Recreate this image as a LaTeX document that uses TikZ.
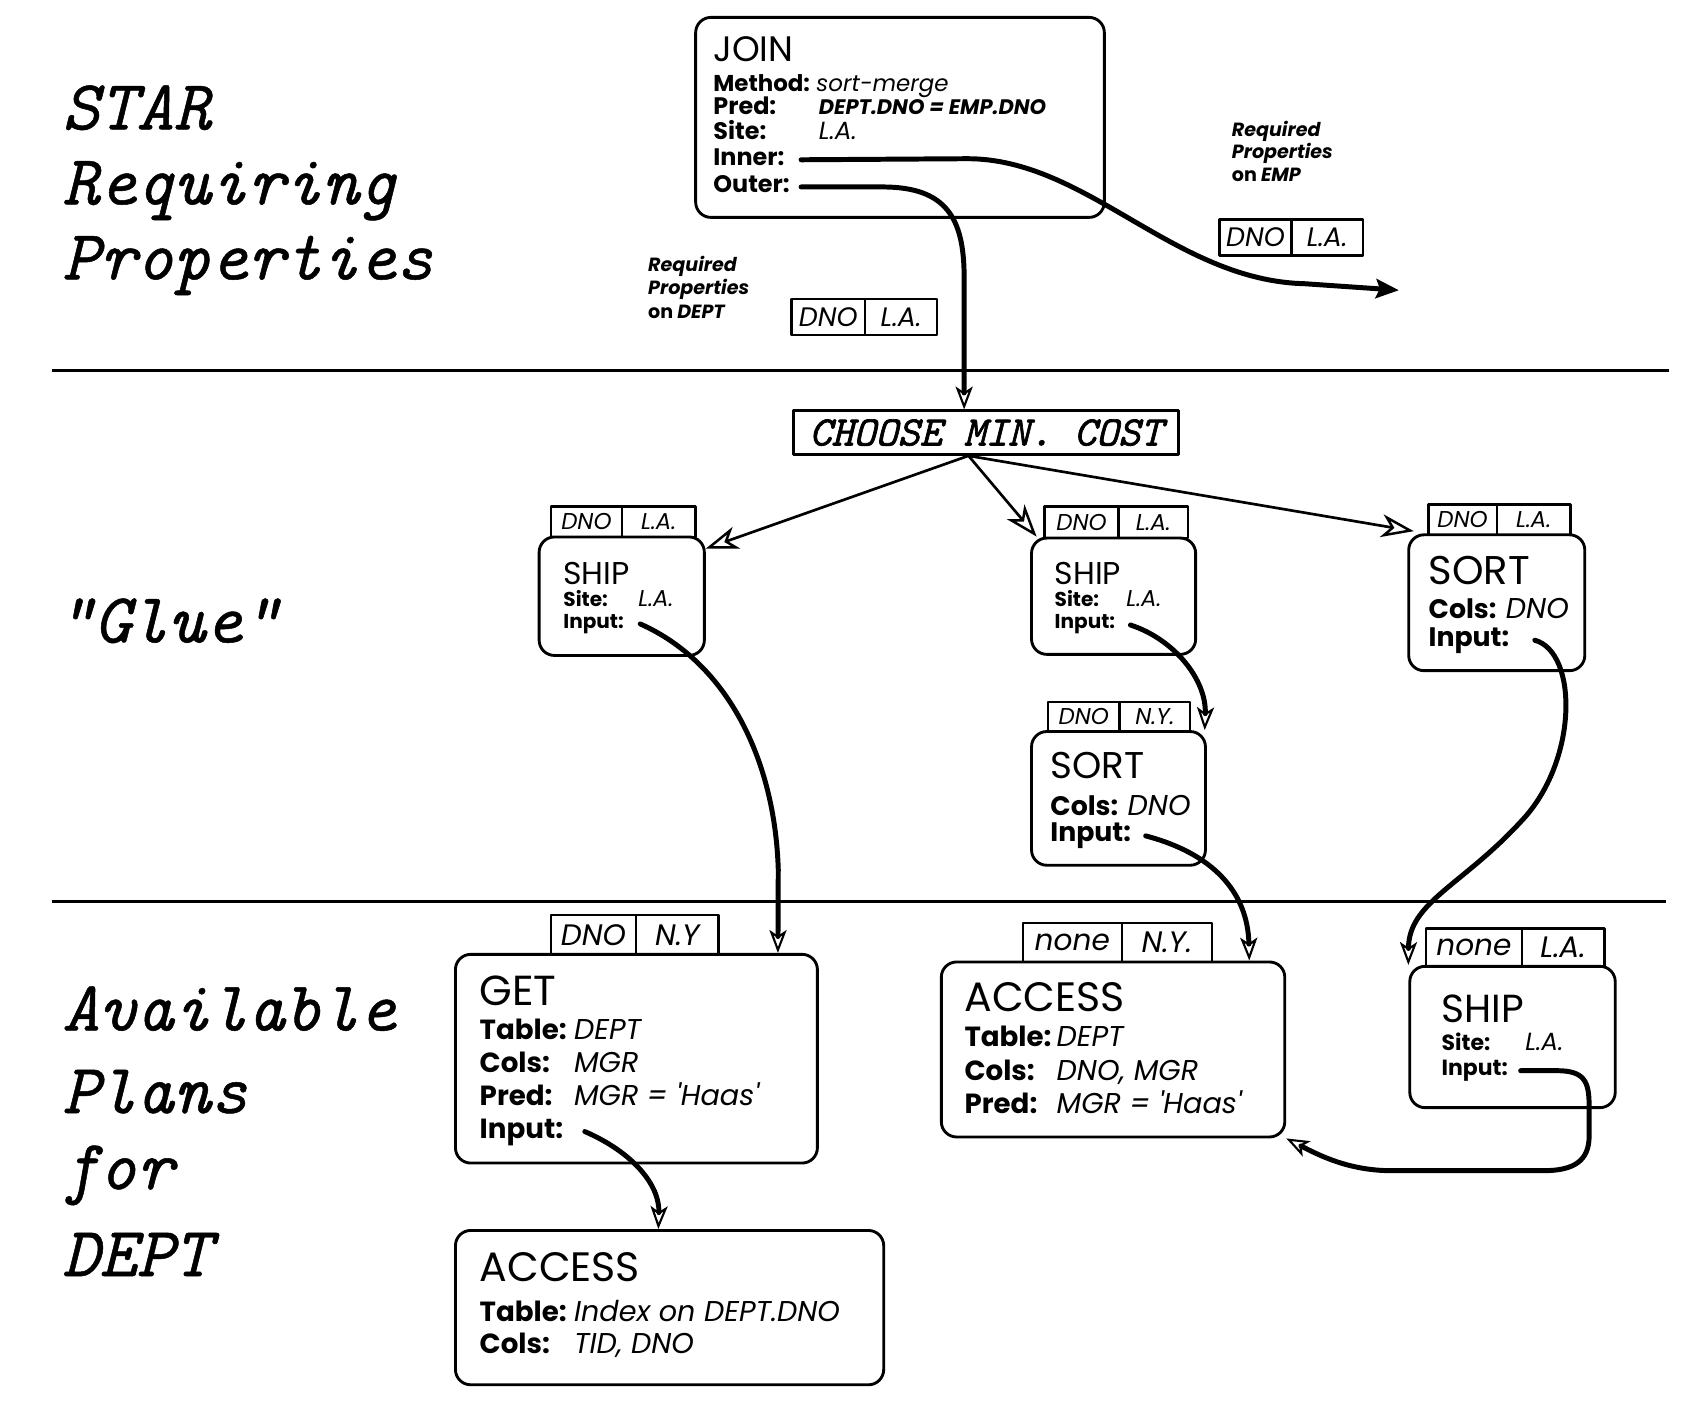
\documentclass[tikz,border=0pt]{standalone}
\usepackage{fontspec}
\newfontfamily\bxf{Poppins}
\newfontfamily\chf{lmmono10-italic.otf}[FakeBold=1.6]
\newfontfamily\hdf{lmmono10-italic.otf}[FakeBold=0.7]
\usetikzlibrary{arrows.meta,calc,fit}
\newcommand\fsz[1]{\fontsize{#1}{#1}\selectfont}
\begin{document}
\begin{tikzpicture}[x=0.02cm,y=-0.02cm,line join=round]
\useasboundingbox (0,0) rectangle (1564,1295);
\tikzset{
  rule/.style={line width=1.5pt},
  head/.style={anchor=base west, inner sep=0pt, font={\hdf\fsz{37}}},
  opbox/.style={draw, line width=1.5pt, rounded corners=8pt, inner sep=0pt},
  ttl/.style={anchor=base west, inner sep=0pt, font={\bxf\fsz{#1}}},
  lb/.style={anchor=base west, inner sep=0pt, font={\bxf\bfseries\fsz{#1}}},
  vl/.style={anchor=base west, inner sep=0pt, font={\bxf\itshape\fsz{#1}}},
  rq/.style={anchor=base west, inner sep=0pt, font={\bxf\bfseries\itshape\fsz{10}}},
  tagc/.style n args={3}{draw, line width=1.3pt, inner sep=0pt, font={\bxf\itshape\fsz{#1}},
     minimum width={#2*0.02cm}, minimum height={#3*0.02cm}},
  chbox/.style={draw, line width=1.5pt, inner sep=0pt, font={\chf\fsz{22}},
     minimum width={354*0.02cm}, minimum height={40*0.02cm}},
  conn/.style={line width=2.6pt, line cap=round, -{Stealth[open, length=12pt, width=9pt, inset=3pt, line width=1.1pt]}},
  empconn/.style={line width=2.6pt, line cap=round, -{Stealth[length=12pt, width=10pt, inset=2pt]}},
  carr/.style={line width=1.4pt, -{Stealth[open, length=17pt, width=12pt, inset=5pt, line width=1.3pt]}}
}
% section rules
\coordinate (r1a) at (48,341); \coordinate (r1b) at (1535,341);
\coordinate (r2a) at (48,829); \coordinate (r2b) at (1533,829);
\draw[rule] (r1a) -- (r1b);
\draw[rule] (r2a) -- (r2b);
% headings
\node[head] (hstar) at (57,119) {STAR};
\node[head] (hreq) at (57,188) {Requiring};
\node[head] (hprop) at (57,257) {Properties};
\node[head] (hglue) at (52,591) {\char34 Glue\char34};
\node[head] (havail) at (57,948) {Available};
\node[head] (hplans) at (57,1024) {Plans};
\node[head] (hfor) at (57,1094) {for};
\node[head] (hdept) at (57,1174) {DEPT};
% JOIN box
\node[opbox, fit={(640,16) (1016,200)}] (join) {};
\node[ttl=18.5] (joint) at (656,57) {JOIN};
\node[lb=12] (jmeth) at (656,84) {Method: \mdseries\itshape sort-merge};
\node[lb=12.5] (jpred) at (656,105) {Pred:};
\node[vl=11.5, font={\bxf\bfseries\itshape\fsz{11}}] (jpredv) at (753,105) {DEPT.DNO = EMP.DNO};
\node[lb=12.5] (jsite) at (656,128) {Site:};
\node[vl=13] (jsitev) at (753,128) {L.A.};
\node[lb=12.5] (jinner) at (656,152) {Inner:};
\node[lb=12.5] (jouter) at (656,177) {Outer:};
\coordinate (innerS) at (737,147);
\coordinate (outerS) at (737,172);
% required properties on EMP
\node[rq] (emp1) at (1133,126) {Required};
\node[rq] (emp2) at (1133,146) {Properties};
\node[rq] (emp3) at (1133,167) {\upshape on \itshape EMP};
\node[tagc={14}{66}{33}] (empa) at (1155,218.5) {DNO};
\node[tagc={14}{66}{33}] (empb) at (1221,218.5) {L.A.};
\coordinate (empE) at (1287,267);
% required properties on DEPT
\node[rq] (dep1) at (596,250) {Required};
\node[rq] (dep2) at (596,271) {Properties};
\node[rq] (dep3) at (596,293) {\upshape on \itshape DEPT};
\node[tagc={14}{68}{33}] (depa) at (762,291.5) {DNO};
\node[tagc={14}{66}{33}] (depb) at (829,291.5) {L.A.};
% choose
\node[chbox] (choose) at (907,398) {CHOOSE MIN. COST};
% SHIP 1
\node[opbox, fit={(496,494) (648,603)}] (ship1) {};
\node[tagc={12}{65}{28}] (s1a) at (539.5,480) {DNO};
\node[tagc={12}{68}{28}] (s1b) at (606,480) {L.A.};
\node[ttl=16.5] (s1t) at (518,538) {SHIP};
\node[lb=10.5] (s1s) at (518,558) {Site:};
\node[vl=12] (s1sv) at (587,558) {L.A.};
\node[lb=10.5] (s1i) at (518,578) {Input:};
\coordinate (in1) at (589,574);
% SHIP 2
\node[opbox, fit={(949,495) (1100,602)}] (ship2) {};
\node[tagc={12}{68}{29}] (s2a) at (995,480.5) {DNO};
\node[tagc={12}{64}{29}] (s2b) at (1061,480.5) {L.A.};
\node[ttl=16.5] (s2t) at (970,538) {SHIP};
\node[lb=10.5] (s2s) at (970,558) {Site:};
\node[vl=12] (s2sv) at (1036,558) {L.A.};
\node[lb=10.5] (s2i) at (970,578) {Input:};
\coordinate (in2) at (1040,575);
% SORT 1
\node[opbox, fit={(1296,492) (1458,617)}] (sort1) {};
\node[tagc={12}{63}{28}] (o1a) at (1345.5,478) {DNO};
\node[tagc={12}{68}{28}] (o1b) at (1411,478) {L.A.};
\node[ttl=21] (o1t) at (1314,538) {SORT};
\node[lb=14] (o1c) at (1314,569) {Cols:};
\node[vl=15] (o1cv) at ($(o1c.base east)+(8,0)$) {DNO};
\node[lb=14] (o1i) at (1314,595) {Input:};
\coordinate (in3) at (1412,589);
% SORT 2
\node[opbox, fit={(949,673) (1109,796)}] (sort2) {};
\node[tagc={12}{66}{27}] (o2a) at (997,659.5) {DNO};
\node[tagc={12}{65}{27}] (o2b) at (1062.5,659.5) {N.Y.};
\node[ttl=19.5] (o2t) at (966,716) {SORT};
\node[lb=14] (o2c) at (966,750) {Cols:};
\node[vl=15] (o2cv) at ($(o2c.base east)+(8,0)$) {DNO};
\node[lb=14] (o2i) at (966,774) {Input:};
\coordinate (in4) at (1054,769);
% GET
\node[opbox, fit={(419,878) (752,1070)}] (get) {};
\node[tagc={15.5}{78}{36}] (ga) at (546,860) {DNO};
\node[tagc={15.5}{76}{36}] (gb) at (623,860) {N.Y};
\node[ttl=22] (gt) at (441,925) {GET};
\node[lb=14.5] (gtab) at (441,956) {Table:};
\node[vl=15] (gtabv) at ($(gtab.base east)+(6,0)$) {DEPT};
\node[lb=14.5] (gcol) at (441,987) {Cols:};
\node[vl=15] (gcolv) at (gcol.base -| gtabv.base west) {MGR};
\node[lb=14.5] (gpred) at (441,1017) {Pred:};
\node[vl=15] (gpredv) at (gpred.base -| gtabv.base west) {MGR = 'Haas'};
\node[lb=14.5] (ginp) at (441,1047) {Input:};
\coordinate (in5) at (538,1041);
% ACCESS middle
\node[opbox, fit={(866,885) (1182,1046)}] (accm) {};
\node[tagc={15.5}{91}{36}] (ama) at (986.5,867) {none};
\node[tagc={15.5}{83}{36}] (amb) at (1073.5,867) {N.Y.};
\node[ttl=21.5] (amt) at (887,931) {ACCESS};
\node[lb=14.5] (amtab) at (887,963) {Table:};
\node[vl=15] (amtabv) at ($(amtab.base east)+(4,0)$) {DEPT};
\node[lb=14.5] (amcol) at (887,994) {Cols:};
\node[vl=15] (amcolv) at (amcol.base -| amtabv.base west) {DNO, MGR};
\node[lb=14.5] (ampred) at (887,1024) {Pred:};
\node[vl=15] (ampredv) at (ampred.base -| amtabv.base west) {MGR = 'Haas'};
% SHIP 3
\node[opbox, fit={(1297,889) (1486,1019)}] (ship3) {};
\node[tagc={15.5}{88}{35}] (s3a) at (1356,871.5) {none};
\node[tagc={15.5}{76}{35}] (s3b) at (1438,871.5) {L.A.};
\node[ttl=20.5] (s3t) at (1326,941) {SHIP};
\node[lb=11.5] (s3s) at (1326,966) {Site:};
\node[vl=13] (s3sv) at (1403,966) {L.A.};
\node[lb=11.5] (s3i) at (1326,989) {Input:};
\coordinate (in6) at (1399,985);
% ACCESS bottom
\node[opbox, fit={(419,1132) (813,1274)}] (accb) {};
\node[ttl=21.5] (abt) at (441,1179) {ACCESS};
\node[lb=14.5] (abtab) at (441,1216) {Table:};
\node[vl=15] (abtabv) at ($(abtab.base east)+(6,0)$) {Index on DEPT.DNO};
\node[lb=14.5] (abcol) at (441,1245) {Cols:};
\node[vl=15] (abcolv) at (abcol.base -| abtabv.base west) {TID, DNO};
% connectors
\coordinate (chs) at ($(choose.south)+(-16,0)$);
\draw[conn] (outerS) -- (812,172) .. controls (870,172) and (887,200) .. (887,255) -- ($(choose.north)+(-20,0)$);
\draw[empconn] (innerS) -- (890,146) .. controls (1000,146) and (1080,258) .. (1200,261) -- (empE);
\draw[carr] (chs) -- ($(ship1.north east)+(0,12)$);
\draw[carr] (chs) -- ($(ship2.north west)+(6,0)$);
\draw[carr] (chs) -- ($(sort1.north west)+(6,-2)$);
\draw[conn] (in1) .. controls (670,610) and (713,700) .. (716,800) -- ($(get.north west)+(298,0)$);
\draw[conn] (in2) .. controls (1080,588) and (1110,625) .. ($(sort2.north east)+(-2,0)$);
\draw[conn] (in3) .. controls (1452,600) and (1452,700) .. (1400,755) .. controls (1345,815) and (1296,830) .. (ship3.north west);
\draw[conn] (in4) .. controls (1115,785) and (1148,820) .. ($(accm.north east)+(-34,0)$);
\draw[conn] (in5) .. controls (582,1060) and (607,1090) .. ($(accb.north west)+(188,0)$);
\draw[conn] (in6) -- (1432,985) .. controls (1458,985) and (1462,995) .. (1462,1018) -- (1462,1045) .. controls (1462,1068) and (1448,1077) .. (1420,1077) -- (1280,1077) .. controls (1240,1077) and (1212,1062) .. (accm.south east);
\end{tikzpicture}
\end{document}
